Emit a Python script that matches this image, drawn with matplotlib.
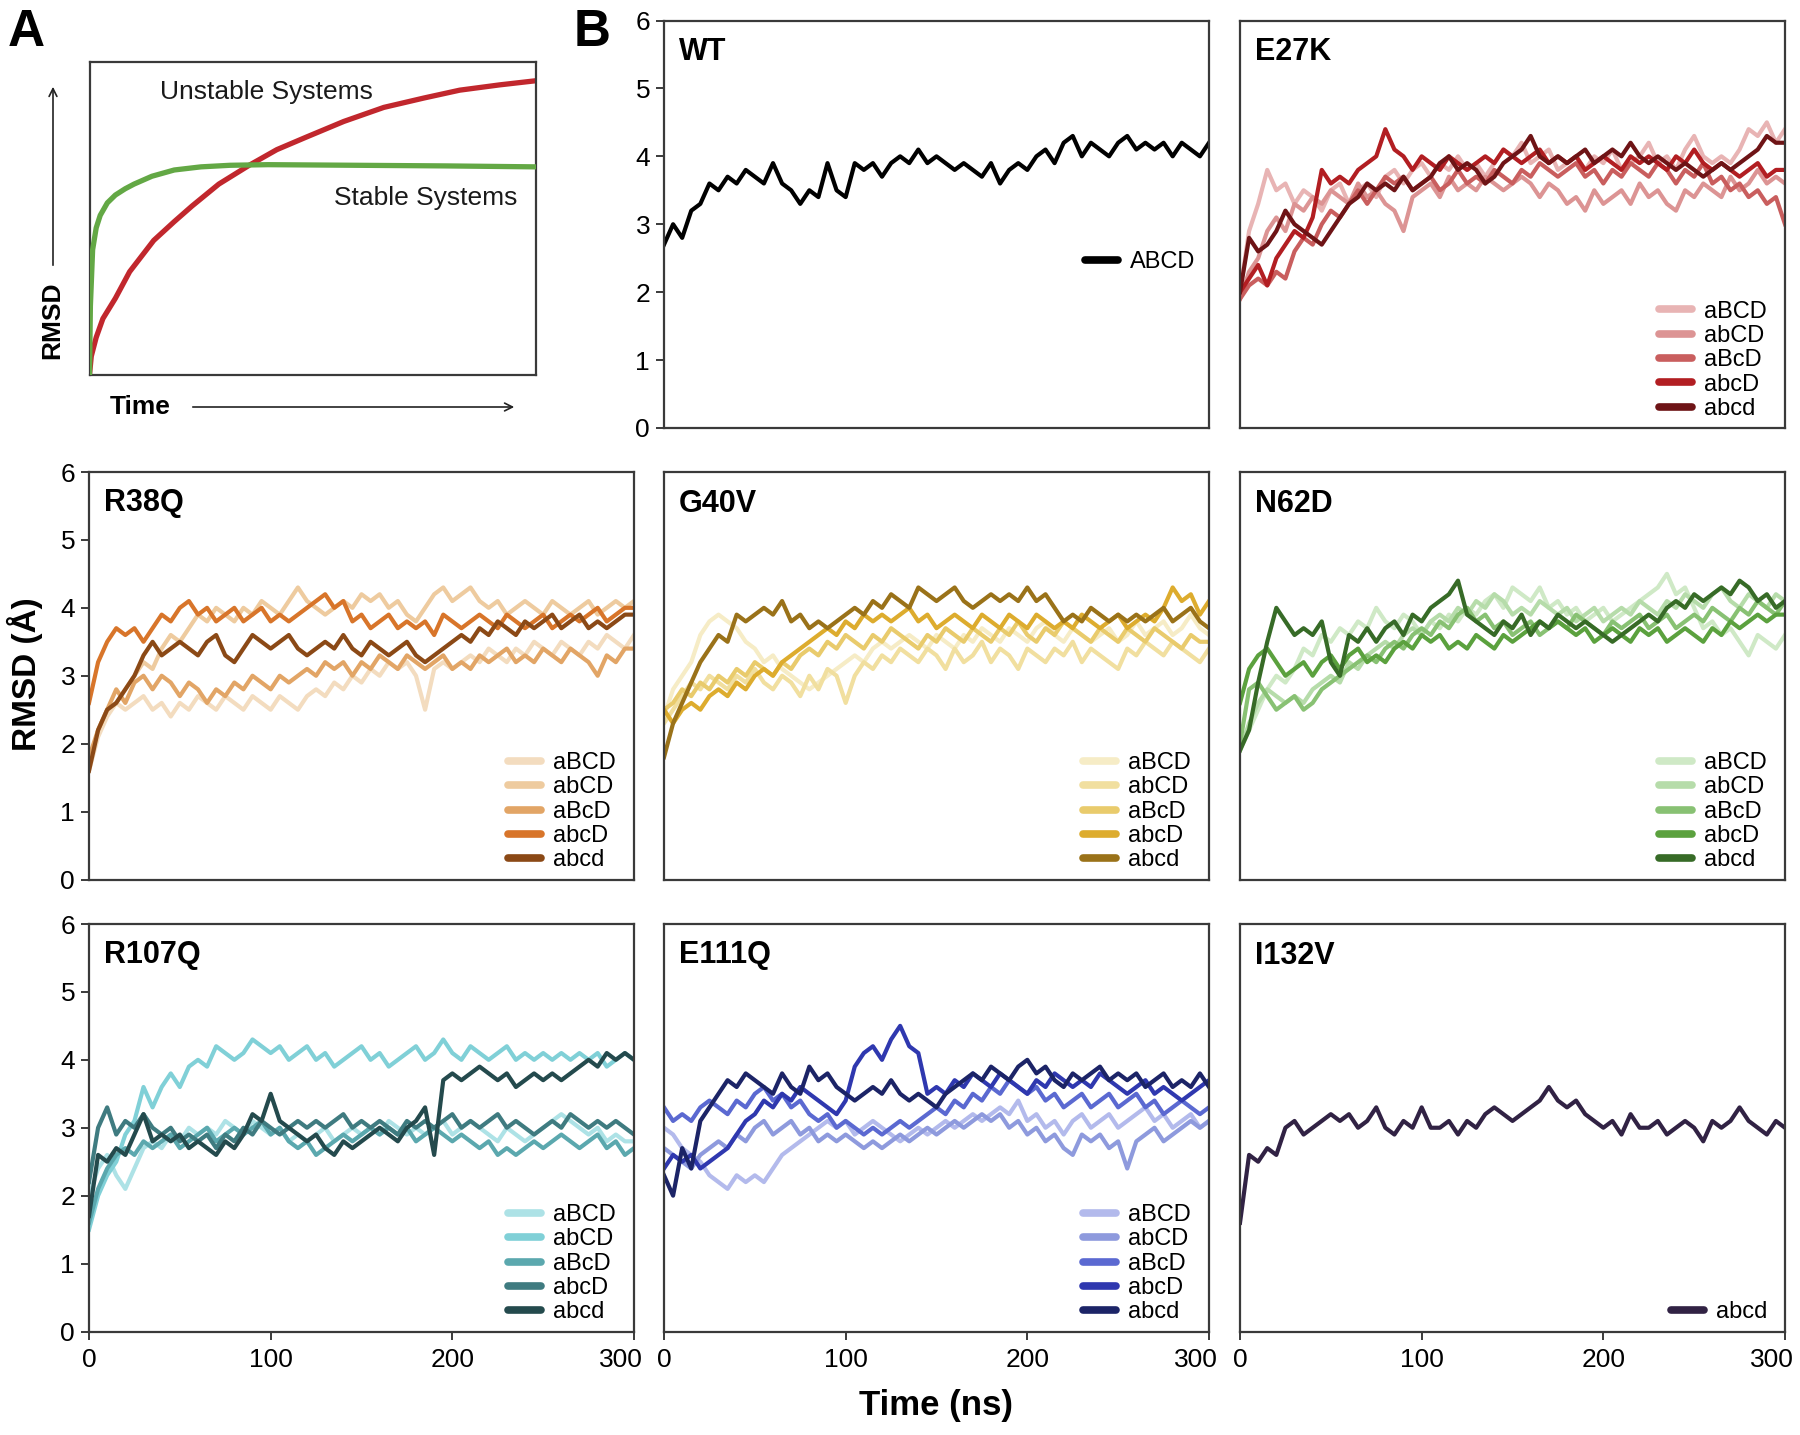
import numpy as np
import matplotlib
matplotlib.use("Agg")
import matplotlib.pyplot as plt
from matplotlib.transforms import ScaledTranslation

NARROW = ["Liberation Sans", "DejaVu Sans"]
BOLD = ["Liberation Sans", "DejaVu Sans"]

# ---------------- data (RMSD in Angstrom, sampled every 5 ns, 0..300 ns) ----------------
LABELS5 = ["aBCD", "abCD", "aBcD", "abcD", "abcd"]

WT_ABCD = [2.7, 3.0, 2.8, 3.2, 3.3, 3.6, 3.5, 3.7, 3.6, 3.8, 3.7, 3.6, 3.9, 3.6, 3.5, 3.3, 3.5, 3.4, 3.9, 3.5,
           3.4, 3.9, 3.8, 3.9, 3.7, 3.9, 4.0, 3.9, 4.1, 3.9, 4.0, 3.9, 3.8, 3.9, 3.8, 3.7, 3.9, 3.6, 3.8, 3.9,
           3.8, 4.0, 4.1, 3.9, 4.2, 4.3, 4.0, 4.2, 4.1, 4.0, 4.2, 4.3, 4.1, 4.2, 4.1, 4.2, 4.0, 4.2, 4.1, 4.0, 4.2]

E27K_aBCD = [2.0, 2.9, 3.3, 3.8, 3.5, 3.6, 3.3, 3.5, 3.4, 3.2, 3.5, 3.6, 3.3, 3.5, 3.6, 3.4, 3.7, 3.8, 3.6, 3.8,
             3.9, 3.7, 3.9, 3.8, 4.0, 3.8, 3.9, 3.7, 3.9, 4.1, 4.0, 4.2, 3.9, 4.0, 4.1, 3.8, 3.9, 4.0, 3.8, 4.0,
             3.9, 4.1, 3.8, 3.9, 4.0, 4.2, 3.9, 4.0, 3.8, 4.1, 4.3, 4.0, 3.9, 4.0, 3.9, 4.1, 4.4, 4.3, 4.5, 4.2, 4.4]
E27K_abCD = [1.9, 2.3, 2.5, 2.9, 3.1, 2.9, 3.3, 3.2, 3.4, 3.3, 3.5, 3.4, 3.3, 3.6, 3.4, 3.5, 3.3, 3.2, 2.9, 3.4,
             3.5, 3.6, 3.4, 3.7, 3.5, 3.6, 3.5, 3.7, 3.6, 3.5, 3.6, 3.7, 3.6, 3.4, 3.6, 3.5, 3.3, 3.4, 3.2, 3.5,
             3.3, 3.4, 3.5, 3.3, 3.6, 3.4, 3.5, 3.3, 3.2, 3.5, 3.4, 3.6, 3.5, 3.4, 3.7, 3.5, 3.6, 3.8, 3.6, 3.7, 3.6]
E27K_aBcD = [1.9, 2.1, 2.2, 2.1, 2.3, 2.2, 2.6, 2.8, 2.7, 3.0, 3.2, 3.1, 3.3, 3.5, 3.3, 3.5, 3.7, 3.6, 3.7, 3.5,
             3.6, 3.7, 3.5, 3.6, 3.8, 3.6, 3.7, 3.6, 3.8, 3.7, 3.6, 3.8, 3.7, 3.9, 3.8, 3.7, 3.8, 3.9, 3.7, 3.8,
             3.6, 3.8, 3.7, 3.9, 3.8, 3.7, 3.9, 3.8, 3.6, 3.8, 3.7, 3.9, 3.6, 3.7, 3.5, 3.6, 3.4, 3.5, 3.3, 3.4, 3.0]
E27K_abcD = [2.0, 2.2, 2.4, 2.1, 2.5, 2.7, 2.9, 2.8, 3.1, 3.8, 3.6, 3.7, 3.6, 3.8, 3.9, 4.0, 4.4, 4.1, 4.0, 3.8,
             4.0, 3.9, 3.8, 4.0, 3.9, 3.8, 3.9, 4.0, 3.9, 4.1, 4.0, 3.9, 4.0, 4.1, 3.9, 4.0, 3.9, 4.0, 3.8, 3.9,
             4.0, 3.9, 3.8, 4.0, 3.9, 4.0, 3.9, 3.8, 4.0, 3.9, 4.1, 3.9, 3.8, 3.9, 3.8, 3.7, 3.8, 3.9, 3.7, 3.8, 3.8]
E27K_abcd = [2.0, 2.8, 2.6, 2.7, 2.9, 3.2, 3.0, 2.9, 2.8, 2.7, 2.9, 3.1, 3.3, 3.4, 3.6, 3.5, 3.6, 3.5, 3.7, 3.5,
             3.6, 3.7, 3.9, 4.0, 3.8, 3.9, 3.8, 3.6, 3.7, 3.9, 4.0, 4.1, 4.3, 4.0, 3.9, 4.0, 3.9, 4.0, 4.1, 3.9,
             4.0, 4.1, 4.0, 4.2, 4.0, 3.9, 4.0, 3.9, 3.8, 3.9, 3.8, 3.7, 3.8, 3.9, 3.8, 3.9, 4.0, 4.1, 4.3, 4.2, 4.2]

R38Q_aBCD = [1.6, 2.1, 2.4, 2.6, 2.5, 2.6, 2.7, 2.5, 2.6, 2.4, 2.6, 2.5, 2.7, 2.6, 2.5, 2.7, 2.6, 2.5, 2.7, 2.6,
             2.5, 2.7, 2.6, 2.5, 2.7, 2.8, 2.7, 2.9, 2.8, 3.0, 2.9, 3.1, 3.0, 3.2, 3.1, 3.2, 3.0, 2.5, 3.1, 3.2,
             3.1, 3.2, 3.3, 3.2, 3.4, 3.3, 3.2, 3.4, 3.3, 3.5, 3.4, 3.3, 3.5, 3.4, 3.3, 3.5, 3.4, 3.6, 3.5, 3.4, 3.6]
R38Q_abCD = [1.7, 2.2, 2.5, 2.6, 2.8, 3.0, 3.2, 3.1, 3.4, 3.6, 3.5, 3.7, 3.9, 3.8, 4.0, 3.9, 3.8, 4.0, 3.9, 4.1,
             4.0, 3.9, 4.1, 4.3, 4.1, 4.0, 3.9, 4.0, 4.1, 4.0, 4.2, 4.1, 4.2, 4.0, 4.1, 3.9, 3.8, 4.0, 4.2, 4.3,
             4.1, 4.2, 4.3, 4.1, 4.0, 4.1, 3.9, 4.0, 4.1, 4.0, 3.9, 4.1, 4.0, 3.9, 4.0, 4.1, 3.9, 4.0, 4.1, 4.0, 4.1]
R38Q_aBcD = [1.8, 2.2, 2.5, 2.8, 2.6, 2.9, 3.0, 2.8, 3.0, 2.9, 2.7, 2.9, 2.8, 2.6, 2.8, 2.7, 2.9, 2.8, 3.0, 2.9,
             2.8, 3.0, 2.9, 3.0, 3.1, 3.0, 3.2, 3.1, 3.2, 3.0, 3.2, 3.1, 3.3, 3.2, 3.1, 3.3, 3.2, 3.1, 3.2, 3.3,
             3.1, 3.2, 3.1, 3.3, 3.2, 3.3, 3.4, 3.2, 3.3, 3.2, 3.4, 3.3, 3.2, 3.4, 3.3, 3.2, 3.0, 3.3, 3.2, 3.4, 3.4]
R38Q_abcD = [2.6, 3.2, 3.5, 3.7, 3.6, 3.7, 3.5, 3.7, 3.9, 3.8, 4.0, 4.1, 3.9, 4.0, 3.8, 3.9, 4.0, 3.8, 3.9, 4.0,
             3.8, 3.9, 3.8, 3.9, 4.0, 4.1, 4.2, 4.0, 4.1, 3.8, 3.9, 3.7, 3.8, 3.9, 3.7, 3.8, 3.7, 3.8, 3.6, 3.9,
             3.8, 3.7, 3.8, 3.9, 3.8, 3.7, 3.9, 3.8, 3.7, 3.8, 3.9, 3.7, 3.8, 3.9, 3.8, 3.9, 4.0, 3.8, 3.9, 4.0, 4.0]
R38Q_abcd = [1.6, 2.2, 2.5, 2.6, 2.8, 3.0, 3.3, 3.5, 3.3, 3.4, 3.5, 3.4, 3.3, 3.5, 3.6, 3.3, 3.2, 3.4, 3.6, 3.5,
             3.4, 3.5, 3.6, 3.4, 3.3, 3.4, 3.5, 3.4, 3.6, 3.4, 3.3, 3.5, 3.4, 3.3, 3.4, 3.5, 3.3, 3.2, 3.3, 3.4,
             3.5, 3.6, 3.5, 3.7, 3.6, 3.8, 3.7, 3.6, 3.8, 3.7, 3.8, 3.9, 3.7, 3.8, 3.9, 3.7, 3.8, 3.7, 3.8, 3.9, 3.9]

G40V_aBCD = [2.4, 2.8, 3.0, 3.2, 3.6, 3.8, 3.9, 3.8, 3.7, 3.5, 3.4, 3.2, 3.3, 3.1, 3.0, 2.9, 2.8, 2.9, 3.0, 3.1,
             3.2, 3.3, 3.2, 3.4, 3.5, 3.4, 3.5, 3.6, 3.5, 3.4, 3.6, 3.5, 3.4, 3.6, 3.5, 3.7, 3.6, 3.5, 3.7, 3.6,
             3.5, 3.7, 3.8, 3.6, 3.5, 3.7, 3.6, 3.5, 3.6, 3.7, 3.5, 3.6, 3.8, 3.6, 3.7, 3.8, 3.6, 3.7, 3.9, 3.7, 3.6]
G40V_abCD = [2.3, 2.5, 2.7, 2.9, 2.8, 3.0, 2.9, 2.8, 3.0, 2.9, 3.1, 2.9, 2.8, 3.0, 2.9, 2.7, 3.0, 2.8, 3.1, 3.0,
             2.6, 3.0, 3.2, 3.1, 3.3, 3.2, 3.4, 3.3, 3.2, 3.4, 3.3, 3.1, 3.4, 3.2, 3.3, 3.5, 3.2, 3.4, 3.3, 3.1,
             3.4, 3.3, 3.2, 3.4, 3.3, 3.5, 3.2, 3.4, 3.3, 3.2, 3.1, 3.4, 3.3, 3.5, 3.4, 3.3, 3.5, 3.4, 3.3, 3.2, 3.4]
G40V_aBcD = [2.5, 2.6, 2.8, 2.7, 2.9, 2.8, 3.0, 2.9, 3.1, 3.0, 3.2, 3.1, 3.0, 3.2, 3.1, 3.3, 3.4, 3.3, 3.5, 3.4,
             3.6, 3.5, 3.4, 3.6, 3.5, 3.7, 3.6, 3.5, 3.4, 3.6, 3.5, 3.7, 3.6, 3.5, 3.7, 3.6, 3.5, 3.7, 3.6, 3.8,
             3.6, 3.5, 3.7, 3.6, 3.8, 3.7, 3.6, 3.5, 3.7, 3.6, 3.5, 3.7, 3.6, 3.5, 3.7, 3.6, 3.5, 3.4, 3.6, 3.5, 3.5]
G40V_abcD = [2.5, 2.3, 2.5, 2.6, 2.5, 2.7, 2.8, 2.7, 2.9, 2.8, 3.0, 3.1, 3.0, 3.2, 3.3, 3.4, 3.5, 3.6, 3.7, 3.6,
             3.8, 3.7, 3.9, 3.8, 3.9, 3.8, 3.9, 4.0, 3.8, 3.9, 3.7, 3.8, 3.9, 3.8, 3.7, 3.9, 3.8, 3.7, 3.9, 3.8,
             3.7, 3.9, 3.8, 3.7, 3.8, 3.7, 3.9, 3.8, 3.7, 3.8, 3.9, 3.7, 3.8, 3.9, 3.8, 4.0, 4.3, 4.1, 4.2, 3.9, 4.1]
G40V_abcd = [1.8, 2.3, 2.6, 2.9, 3.2, 3.4, 3.6, 3.5, 3.9, 3.8, 3.9, 4.0, 3.9, 4.1, 3.8, 3.9, 3.7, 3.8, 3.7, 3.8,
             3.9, 4.0, 3.9, 4.1, 4.0, 4.2, 4.1, 4.0, 4.3, 4.2, 4.1, 4.2, 4.3, 4.1, 4.0, 4.1, 4.2, 4.1, 4.2, 4.1,
             4.3, 4.1, 4.2, 4.0, 3.8, 3.9, 3.8, 4.0, 3.9, 3.8, 3.9, 3.8, 3.9, 3.8, 3.9, 4.0, 3.8, 3.9, 4.0, 3.8, 3.7]

N62D_aBCD = [1.9, 2.2, 2.5, 2.8, 3.0, 2.9, 3.1, 3.4, 3.3, 3.6, 3.5, 3.7, 3.6, 3.8, 3.7, 4.0, 3.8, 3.7, 3.9, 3.8,
             3.6, 3.8, 3.7, 3.9, 3.8, 4.0, 3.9, 4.1, 4.2, 4.0, 4.3, 4.2, 4.1, 4.3, 4.0, 4.1, 3.9, 4.0, 3.8, 3.9,
             4.0, 3.8, 3.9, 4.0, 4.1, 4.2, 4.3, 4.5, 4.2, 4.3, 4.0, 3.7, 3.8, 3.6, 3.7, 3.5, 3.3, 3.6, 3.5, 3.4, 3.6]
N62D_abCD = [1.9, 2.3, 2.6, 2.8, 2.7, 2.6, 2.7, 2.6, 2.8, 2.9, 3.0, 2.9, 3.2, 3.1, 3.3, 3.4, 3.5, 3.4, 3.6, 3.7,
             3.6, 3.8, 3.9, 3.8, 4.0, 3.9, 4.1, 4.0, 4.2, 4.1, 3.9, 4.0, 3.9, 4.1, 4.0, 3.9, 4.0, 3.8, 3.9, 4.0,
             3.8, 3.9, 4.0, 3.9, 4.1, 4.0, 3.9, 4.1, 4.0, 4.2, 4.1, 4.0, 4.2, 4.3, 4.1, 4.0, 4.2, 4.1, 4.0, 4.2, 4.1]
N62D_aBcD = [2.0, 2.8, 2.9, 2.7, 2.5, 2.6, 2.7, 2.5, 2.6, 2.8, 2.9, 3.0, 3.1, 3.2, 3.3, 3.2, 3.4, 3.5, 3.4, 3.6,
             3.7, 3.6, 3.8, 3.7, 3.9, 4.0, 3.8, 3.9, 3.7, 3.8, 3.6, 3.7, 3.8, 3.6, 3.7, 3.8, 3.7, 3.9, 3.8, 3.7,
             3.6, 3.8, 3.7, 3.8, 3.9, 3.7, 3.8, 3.9, 3.7, 3.8, 3.9, 3.8, 4.0, 3.9, 3.8, 4.0, 3.9, 4.1, 4.0, 3.9, 4.1]
N62D_abcD = [2.6, 3.1, 3.3, 3.4, 3.2, 3.0, 3.1, 3.2, 3.0, 3.2, 3.3, 3.1, 3.3, 3.4, 3.2, 3.3, 3.2, 3.4, 3.5, 3.4,
             3.6, 3.5, 3.6, 3.4, 3.5, 3.4, 3.6, 3.5, 3.4, 3.6, 3.5, 3.6, 3.7, 3.8, 3.7, 3.8, 3.7, 3.6, 3.7, 3.5,
             3.6, 3.7, 3.6, 3.5, 3.7, 3.6, 3.7, 3.5, 3.6, 3.7, 3.6, 3.5, 3.7, 3.6, 3.8, 3.7, 3.8, 3.9, 3.8, 3.9, 3.9]
N62D_abcd = [1.9, 2.2, 2.9, 3.5, 4.0, 3.8, 3.6, 3.7, 3.6, 3.8, 3.2, 3.0, 3.6, 3.5, 3.7, 3.5, 3.7, 3.8, 3.6, 3.9,
             3.8, 4.0, 4.1, 4.2, 4.4, 3.9, 3.8, 3.7, 3.6, 3.8, 3.7, 3.9, 3.6, 3.8, 3.7, 3.9, 3.8, 3.7, 3.8, 3.7,
             3.6, 3.5, 3.6, 3.7, 3.8, 3.9, 3.8, 4.0, 4.1, 4.0, 4.2, 4.1, 4.2, 4.3, 4.2, 4.4, 4.3, 4.1, 4.2, 4.0, 4.1]

R107Q_aBCD = [2.0, 2.4, 2.6, 2.3, 2.1, 2.4, 2.7, 2.8, 2.7, 2.9, 2.8, 3.0, 2.9, 3.0, 2.9, 3.1, 3.0, 2.9, 3.1, 3.0,
              2.9, 3.0, 2.8, 2.9, 2.8, 2.9, 3.0, 2.8, 2.9, 3.0, 2.9, 3.0, 2.9, 3.1, 3.0, 2.9, 3.0, 2.9, 3.0, 3.1,
              2.9, 3.0, 3.1, 3.0, 2.9, 2.8, 3.0, 2.9, 2.8, 2.9, 3.0, 3.1, 3.2, 3.1, 3.0, 2.9, 3.0, 2.8, 2.9, 2.8, 2.8]
R107Q_abCD = [1.5, 2.0, 2.3, 2.5, 2.9, 3.1, 3.6, 3.3, 3.6, 3.8, 3.6, 3.9, 4.0, 3.9, 4.2, 4.1, 4.0, 4.1, 4.3, 4.2,
              4.1, 4.2, 4.0, 4.1, 4.2, 4.0, 4.1, 3.9, 4.0, 4.1, 4.2, 4.0, 4.1, 3.9, 4.0, 4.1, 4.2, 4.0, 4.1, 4.3,
              4.1, 4.0, 4.2, 4.1, 4.0, 4.1, 4.2, 4.0, 4.1, 4.0, 4.1, 4.0, 4.1, 4.0, 4.1, 4.0, 4.1, 3.9, 4.0, 4.1, 4.0]
R107Q_aBcD = [1.6, 2.1, 2.4, 2.6, 2.7, 2.6, 2.8, 2.7, 2.8, 2.9, 2.7, 2.8, 2.9, 3.0, 2.8, 2.9, 3.0, 2.9, 3.0, 3.1,
              2.9, 3.0, 2.8, 2.7, 2.8, 2.6, 2.7, 2.8, 2.9, 2.8, 2.9, 3.0, 2.9, 3.0, 2.9, 3.0, 2.8, 2.9, 3.0, 2.9,
              2.8, 2.9, 2.8, 2.7, 2.8, 2.6, 2.7, 2.6, 2.7, 2.8, 2.7, 2.8, 2.9, 2.8, 2.7, 2.8, 2.9, 2.7, 2.8, 2.6, 2.7]
R107Q_abcD = [2.2, 3.0, 3.3, 2.9, 3.1, 3.0, 3.2, 3.0, 2.9, 3.0, 2.8, 2.9, 2.8, 2.9, 2.7, 2.9, 2.8, 3.0, 2.9, 3.1,
              3.0, 2.9, 3.0, 3.1, 3.0, 3.1, 3.0, 3.1, 3.2, 3.0, 3.1, 3.0, 3.1, 3.0, 2.9, 3.1, 3.0, 3.1, 3.0, 3.1,
              3.2, 3.0, 3.1, 3.0, 3.1, 3.2, 3.0, 3.1, 3.0, 2.9, 3.0, 3.1, 3.0, 3.2, 3.1, 3.0, 3.1, 3.0, 3.1, 3.0, 2.9]
R107Q_abcd = [1.7, 2.6, 2.5, 2.7, 2.6, 2.9, 3.2, 2.8, 2.9, 2.8, 2.9, 2.7, 2.8, 2.7, 2.6, 2.8, 2.7, 2.9, 3.2, 3.1,
              3.5, 3.1, 3.0, 2.9, 2.8, 2.9, 2.7, 2.6, 2.8, 2.7, 2.8, 2.9, 3.0, 2.9, 2.8, 3.0, 3.1, 3.3, 2.6, 3.7,
              3.8, 3.7, 3.8, 3.9, 3.8, 3.7, 3.8, 3.6, 3.7, 3.8, 3.7, 3.8, 3.7, 3.8, 3.9, 4.0, 3.9, 4.1, 4.0, 4.1, 4.0]

E111Q_aBCD = [3.0, 2.9, 2.7, 2.6, 2.5, 2.3, 2.2, 2.1, 2.3, 2.2, 2.3, 2.2, 2.4, 2.6, 2.7, 2.8, 2.9, 3.0, 3.1, 3.0,
              3.1, 2.9, 3.0, 3.1, 3.0, 2.9, 2.8, 2.9, 3.0, 2.9, 3.0, 3.1, 3.0, 3.1, 3.2, 3.1, 3.2, 3.3, 3.2, 3.4,
              3.1, 3.2, 3.0, 3.1, 2.9, 3.1, 3.2, 3.0, 3.1, 3.2, 3.0, 3.1, 3.2, 3.3, 3.1, 3.2, 3.0, 3.1, 3.2, 3.0, 3.1]
E111Q_abCD = [2.7, 2.6, 2.5, 2.4, 2.6, 2.7, 2.8, 2.7, 2.9, 2.8, 3.0, 3.1, 2.9, 3.0, 3.1, 2.9, 3.0, 2.8, 2.9, 2.8,
              2.9, 2.8, 2.7, 2.8, 2.7, 2.8, 2.9, 2.8, 2.9, 3.0, 2.9, 3.0, 3.1, 3.0, 3.1, 3.2, 3.1, 3.2, 3.0, 3.1,
              2.9, 3.0, 2.8, 2.9, 2.7, 2.6, 2.9, 2.8, 2.9, 2.7, 2.8, 2.4, 2.8, 2.9, 3.0, 2.8, 2.9, 3.0, 3.1, 3.0, 3.1]
E111Q_aBcD = [3.3, 3.1, 3.2, 3.1, 3.3, 3.4, 3.3, 3.2, 3.4, 3.3, 3.5, 3.6, 3.4, 3.5, 3.3, 3.4, 3.2, 3.1, 3.2, 3.0,
              3.1, 3.0, 2.9, 3.0, 2.9, 3.0, 3.1, 3.0, 3.1, 3.2, 3.3, 3.2, 3.4, 3.3, 3.5, 3.4, 3.6, 3.5, 3.7, 3.6,
              3.5, 3.6, 3.4, 3.5, 3.3, 3.4, 3.5, 3.3, 3.4, 3.5, 3.3, 3.4, 3.5, 3.3, 3.4, 3.2, 3.3, 3.4, 3.3, 3.2, 3.3]
E111Q_abcD = [2.4, 2.6, 2.5, 2.6, 2.4, 2.5, 2.6, 2.7, 2.9, 3.1, 3.2, 3.4, 3.3, 3.5, 3.4, 3.6, 3.5, 3.4, 3.3, 3.2,
              3.4, 3.9, 4.1, 4.2, 4.0, 4.3, 4.5, 4.2, 4.1, 3.5, 3.6, 3.5, 3.7, 3.6, 3.8, 3.7, 3.6, 3.8, 3.7, 3.6,
              3.5, 3.7, 3.6, 3.8, 3.7, 3.6, 3.7, 3.6, 3.8, 3.7, 3.6, 3.5, 3.6, 3.7, 3.5, 3.6, 3.5, 3.4, 3.5, 3.6, 3.7]
E111Q_abcd = [2.3, 2.0, 2.7, 2.4, 3.1, 3.3, 3.5, 3.7, 3.6, 3.8, 3.7, 3.6, 3.5, 3.8, 3.6, 3.5, 3.9, 3.7, 3.8, 3.6,
              3.5, 3.4, 3.5, 3.6, 3.5, 3.7, 3.5, 3.4, 3.5, 3.4, 3.3, 3.5, 3.6, 3.7, 3.8, 3.7, 3.9, 3.8, 3.7, 3.9,
              4.0, 3.8, 3.9, 3.7, 3.6, 3.8, 3.7, 3.8, 3.9, 3.7, 3.8, 3.7, 3.8, 3.6, 3.7, 3.8, 3.6, 3.7, 3.6, 3.8, 3.6]

I132V_abcd = [1.6, 2.6, 2.5, 2.7, 2.6, 3.0, 3.1, 2.9, 3.0, 3.1, 3.2, 3.1, 3.2, 3.0, 3.1, 3.3, 3.0, 2.9, 3.1, 3.0,
              3.3, 3.0, 3.0, 3.1, 2.9, 3.1, 3.0, 3.2, 3.3, 3.2, 3.1, 3.2, 3.3, 3.4, 3.6, 3.4, 3.3, 3.4, 3.2, 3.1,
              3.0, 3.1, 2.9, 3.2, 3.0, 3.0, 3.1, 2.9, 3.0, 3.1, 3.0, 2.8, 3.1, 3.0, 3.1, 3.3, 3.1, 3.0, 2.9, 3.1, 3.0]

# colours
WT_COLORS = ["#000000"]
E27K_COLORS = ["#e8b4b4", "#dc9494", "#c95e5e", "#b21e22", "#6e1416"]
R38Q_COLORS = ["#f3dcbf", "#eecb9f", "#e2a566", "#d8752a", "#8b4916"]
G40V_COLORS = ["#f6ecc6", "#f1df9f", "#e9cb6c", "#ddac2e", "#9a7219"]
N62D_COLORS = ["#cfe9c6", "#b6dcaa", "#88c173", "#5ba13e", "#376b27"]
R107Q_COLORS = ["#ade2e6", "#80d0d7", "#5ba8ae", "#3f7b80", "#244a4d"]
E111Q_COLORS = ["#b3baec", "#8e9add", "#5b69d1", "#2f38af", "#1c2467"]
I132V_COLORS = ["#312244"]

# schematic panel A (axes fraction)
RED_X = [0, 0.004, 0.015, 0.03, 0.058, 0.09, 0.144, 0.19, 0.23, 0.29, 0.358, 0.42, 0.486, 0.57, 0.66, 0.75, 0.83, 0.92, 1.0]
RED_Y = [0, 0.06, 0.12, 0.18, 0.245, 0.33, 0.43, 0.49, 0.54, 0.61, 0.67, 0.72, 0.76, 0.81, 0.855, 0.885, 0.91, 0.927, 0.94]
GREEN_X = [0, 0.002, 0.007, 0.015, 0.024, 0.04, 0.058, 0.08, 0.1, 0.14, 0.19, 0.25, 0.315, 0.4, 0.6, 0.8, 1.0]
GREEN_Y = [0, 0.22, 0.40, 0.47, 0.51, 0.55, 0.575, 0.595, 0.61, 0.635, 0.655, 0.665, 0.67, 0.672, 0.67, 0.668, 0.665]

PANELS = [
    ("WT", ["ABCD"], [WT_ABCD], WT_COLORS),
    ("E27K", LABELS5, [E27K_aBCD, E27K_abCD, E27K_aBcD, E27K_abcD, E27K_abcd], E27K_COLORS),
    ("R38Q", LABELS5, [R38Q_aBCD, R38Q_abCD, R38Q_aBcD, R38Q_abcD, R38Q_abcd], R38Q_COLORS),
    ("G40V", LABELS5, [G40V_aBCD, G40V_abCD, G40V_aBcD, G40V_abcD, G40V_abcd], G40V_COLORS),
    ("N62D", LABELS5, [N62D_aBCD, N62D_abCD, N62D_aBcD, N62D_abcD, N62D_abcd], N62D_COLORS),
    ("R107Q", LABELS5, [R107Q_aBCD, R107Q_abCD, R107Q_aBcD, R107Q_abcD, R107Q_abcd], R107Q_COLORS),
    ("E111Q", LABELS5, [E111Q_aBCD, E111Q_abCD, E111Q_aBcD, E111Q_abcD, E111Q_abcd], E111Q_COLORS),
    ("I132V", ["abcd"], [I132V_abcd], I132V_COLORS),
]
# grid slots (row, col) for each panel
SLOTS = [(0, 1), (0, 2), (1, 0), (1, 1), (1, 2), (2, 0), (2, 1), (2, 2)]

# ---------------- layout (pixels) ----------------
W, H = 1800, 1435
fig = plt.figure(figsize=(W / 100, H / 100), dpi=100)
COL_L = [89, 664, 1240]
COL_W = 545
ROW_T = [20.5, 472, 924]
ROW_H = 407.5
SPINE = "#3a3a3a"
TICK_FS = 19
LEG_FS = 17


def rect(l, t, w, h):
    return [l / W, 1 - (t + h) / H, w / W, h / H]


# ---------------- panel A ----------------
axA = fig.add_axes(rect(89.5, 62, 446, 313))
axA.plot(GREEN_X, GREEN_Y, color="#63a845", lw=3.8, solid_capstyle="round", zorder=3)
axA.plot(RED_X, RED_Y, color="#c1272d", lw=3.8, solid_capstyle="round", zorder=2)
axA.set_xlim(0, 1)
axA.set_ylim(0, 1)
axA.set_xticks([])
axA.set_yticks([])
for s in axA.spines.values():
    s.set_color(SPINE)
    s.set_linewidth(1.6)
axA.text(0.396, 0.904, "Unstable Systems", family=NARROW, fontsize=19, ha="center", va="center",
         transform=axA.transAxes, color="#1a1a1a")
axA.text(0.96, 0.567, "Stable Systems", family=NARROW, fontsize=19, ha="right", va="center",
         transform=axA.transAxes, color="#1a1a1a")
fig.text(52 / W, 1 - 320 / H, "RMSD", family=BOLD, fontweight="bold", fontsize=19, rotation=90,
         ha="center", va="center")
fig.text(140 / W, 1 - 407 / H, "Time", family=BOLD, fontweight="bold", fontsize=19,
         ha="center", va="center")
fig.add_artist(matplotlib.patches.FancyArrowPatch((53 / W, 1 - 268 / H), (53 / W, 1 - 84 / H),
                                                  transform=fig.transFigure, arrowstyle="->",
                                                  mutation_scale=14, lw=1.2, color="#222222"))
fig.add_artist(matplotlib.patches.FancyArrowPatch((190 / W, 1 - 407 / H), (517 / W, 1 - 407 / H),
                                                  transform=fig.transFigure, arrowstyle="->",
                                                  mutation_scale=14, lw=1.2, color="#222222"))

fig.text(8 / W, 1 - 46 / H, "A", family=BOLD, fontweight="bold", fontsize=37, va="baseline", ha="left")
fig.text(574 / W, 1 - 46 / H, "B", family=BOLD, fontweight="bold", fontsize=37, va="baseline", ha="left")

# ---------------- panel B ----------------
shift_left = ScaledTranslation(-13 / 100, 0, fig.dpi_scale_trans)
for (name, labels, series, colors), (r, c) in zip(PANELS, SLOTS):
    ax = fig.add_axes(rect(COL_L[c], ROW_T[r], COL_W, ROW_H))
    for lab, vals, col in zip(labels, series, colors):
        t = np.linspace(0, 300, len(vals))
        ax.plot(t, vals, color=col, lw=3.0, label=lab, solid_joinstyle="round")
    ax.set_xlim(0, 300)
    ax.set_ylim(0, 6)
    for s in ax.spines.values():
        s.set_color(SPINE)
        s.set_linewidth(1.6)
    show_y = (c == 0) or (r == 0 and c == 1)
    show_x = (r == 2)
    ax.set_yticks([0, 1, 2, 3, 4, 5, 6])
    ax.set_xticks([0, 100, 200, 300])
    ax.tick_params(axis="y", left=show_y, labelleft=show_y, direction="out", length=6, width=1.4,
                   color=SPINE, pad=4)
    ax.tick_params(axis="x", bottom=show_x, labelbottom=show_x, direction="out", length=6, width=1.4,
                   color=SPINE, pad=6)
    for lbl in ax.get_xticklabels() + ax.get_yticklabels():
        lbl.set_family(NARROW)
        lbl.set_fontsize(TICK_FS)
    if show_x:
        last = ax.xaxis.get_major_ticks()[-1].label1
        last.set_transform(last.get_transform() + shift_left)
    ax.text(15 / COL_W, 1 - 39.5 / ROW_H, name, family=BOLD, fontweight="bold", fontsize=22,
            transform=ax.transAxes, ha="left", va="baseline")
    if name == "WT":
        leg = ax.legend(loc="center right", bbox_to_anchor=(1 - 14 / COL_W, 0.407), frameon=False,
                        prop={"family": NARROW, "size": LEG_FS}, handlelength=1.4, handletextpad=0.5,
                        borderaxespad=0, borderpad=0)
    else:
        leg = ax.legend(loc="lower right", bbox_to_anchor=(1 - 18 / COL_W, 8 / ROW_H), frameon=False,
                        prop={"family": NARROW, "size": LEG_FS}, handlelength=1.4, handletextpad=0.5,
                        labelspacing=0.1, borderaxespad=0, borderpad=0)
    for ln in leg.get_lines():
        ln.set_linewidth(5.5)
        ln.set_solid_capstyle("round")

fig.text(25 / W, 1 - 674 / H, "RMSD (Å)", family=BOLD, fontweight="bold", fontsize=24, rotation=90,
         ha="center", va="center")
fig.text(936 / W, 1 - 1406 / H, "Time (ns)", family=BOLD, fontweight="bold", fontsize=25,
         ha="center", va="center")

fig.savefig("out.png", dpi=100)
